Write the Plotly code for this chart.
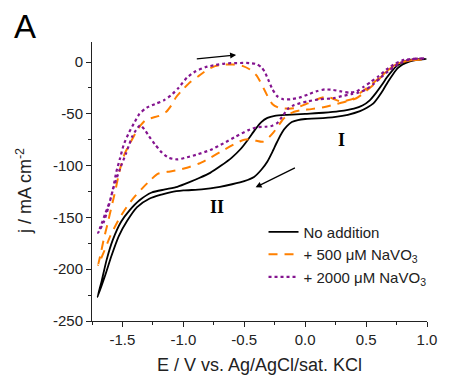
import plotly.graph_objects as go

# ---------------- data ----------------
# No addition: cathodic sweep (+1.0 -> -1.7) then anodic return
black_E = [0.99, 0.92, 0.86, 0.80, 0.76, 0.72, 0.68, 0.64, 0.60, 0.56, 0.51, 0.45, 0.35, 0.25, 0.10,
           0.00, -0.06, -0.11, -0.15, -0.19, -0.23, -0.27, -0.31, -0.36, -0.42, -0.50, -0.60, -0.70,
           -0.85, -1.00, -1.10, -1.18, -1.28, -1.38, -1.46, -1.53, -1.59, -1.645, -1.705,
           -1.67, -1.63, -1.58, -1.51, -1.44, -1.36, -1.26, -1.15, -1.05, -0.95, -0.87, -0.78,
           -0.69, -0.60, -0.53, -0.47, -0.41, -0.36, -0.31, -0.25, -0.15, 0.00, 0.15, 0.28, 0.40,
           0.47, 0.53, 0.58, 0.63, 0.67, 0.71, 0.75, 0.79, 0.84, 0.90, 0.99]
black_j = [3, 2, 0.5, -2.5, -6, -12, -19, -27, -34, -40, -44, -47.5, -51, -53, -54.5,
           -55, -56, -58, -62, -68, -77, -87, -96, -104, -111, -115, -118, -120.5,
           -123, -124, -125.5, -128, -132, -140, -153, -168, -187, -207, -227,
           -211, -191, -172, -154, -143, -133.5, -126, -123, -120.5, -116, -112, -107,
           -100, -92, -84, -75, -65, -58, -54, -52, -51, -50, -49, -47.5, -45,
           -42, -37, -30, -22, -15, -9, -4, -1, 1.5, 2.5, 3]

# + 500 uM NaVO3
orange_E = [0.97, 0.88, 0.80, 0.75, 0.70, 0.65, 0.60, 0.56, 0.52, 0.47, 0.42, 0.34, 0.26, 0.16, 0.05,
            -0.03, -0.09, -0.14, -0.18, -0.22, -0.26, -0.30, -0.35, -0.40, -0.45, -0.50, -0.57, -0.67,
            -0.78, -0.87, -0.97, -1.05, -1.13, -1.21, -1.27, -1.33, -1.40, -1.46, -1.53, -1.60, -1.655,
            -1.70,
            -1.68, -1.655, -1.62, -1.59, -1.56, -1.535, -1.51, -1.48, -1.44, -1.39, -1.35, -1.31,
            -1.26, -1.20, -1.14, -1.10, -1.06, -1.00, -0.94, -0.88, -0.81, -0.74, -0.67, -0.59, -0.51,
            -0.45, -0.40, -0.36, -0.33, -0.30, -0.27, -0.22, -0.14, -0.08, 0.02, 0.12, 0.18, 0.24,
            0.29, 0.35, 0.40, 0.45, 0.52, 0.58, 0.64, 0.70, 0.76, 0.82, 0.90, 0.97]
orange_j = [2.5, 2, 0, -2, -6, -11, -17.5, -22, -26, -31, -35, -38, -40.5, -43.5, -45.5,
            -46.5, -48, -51, -55, -61.5, -68, -73, -77, -76, -74.5, -75, -78.5, -85,
            -92.5, -98, -102, -104.5, -106, -108, -114, -121, -130, -139, -152, -168, -184,
            -196,
            -186, -172, -155, -140, -125, -111, -99, -88, -79, -68, -61, -56,
            -54, -52, -48, -42, -34, -26, -19, -14, -8, -4, -2.5, -2.5, -4,
            -7.5, -13, -21, -28, -35, -40.5, -44, -45, -44.5, -40, -35, -33.5, -36,
            -38, -37, -35, -30, -24, -18, -12, -6, -1.5, 0.5, 2, 2.5]

# + 2000 uM NaVO3
purple_E = [0.98, 0.90, 0.83, 0.78, 0.73, 0.68, 0.62, 0.56, 0.50, 0.44, 0.38, 0.30, 0.23, 0.12, 0.02,
            -0.09, -0.14, -0.19, -0.23, -0.27, -0.33, -0.40, -0.47, -0.57, -0.67, -0.78, -0.88, -0.97,
            -1.05, -1.12, -1.18, -1.23, -1.28, -1.32, -1.355, -1.39, -1.42, -1.47, -1.52, -1.575,
            -1.615, -1.655, -1.70,
            -1.68, -1.64, -1.60, -1.575, -1.55, -1.52, -1.49, -1.45, -1.40, -1.36, -1.30, -1.22,
            -1.16, -1.10, -1.04, -0.97, -0.90, -0.82, -0.74, -0.66, -0.56, -0.46, -0.40, -0.36,
            -0.33, -0.30, -0.27, -0.23, -0.18, -0.12, -0.05, 0.03, 0.10, 0.16, 0.23, 0.30, 0.36,
            0.42, 0.48, 0.54, 0.60, 0.67, 0.74, 0.81, 0.88, 0.98]
purple_j = [3.5, 3, 1.5, -1, -4.5, -9, -15, -21.5, -26.5, -29.5, -31, -33, -35, -36, -38,
            -41.5, -45, -53, -59, -61.5, -62.5, -63, -66, -72, -78.5, -85, -89, -92,
            -94, -92.5, -87, -80, -72, -65, -61, -66, -72, -88, -103, -122,
            -140, -155, -165,
            -159, -146, -133, -121, -106, -93, -80, -69, -58, -50, -44, -40,
            -37, -32, -25, -15, -9, -5, -3, -1.5, -1, -1, -2, -5,
            -10, -18, -26, -33, -36, -36, -34.5, -31, -28, -26.5, -27, -28.5, -29.5,
            -28.5, -24, -19, -14, -7, -1.5, 2, 3, 3.5]

x_ticks = [-1.5, -1.0, -0.5, 0.0, 0.5, 1.0]
x_tick_labels = ["-1.5", "-1.0", "-0.5", "0.0", "0.5", "1.0"]
y_ticks = [-250, -200, -150, -100, -50, 0]
y_tick_labels = ["-250", "-200", "-150", "-100", "-50", "0"]

series_names = ["No addition", "+ 500 μM NaVO<sub>3</sub>", "+ 2000 μM NaVO<sub>3</sub>"]

# ---------------- figure ----------------
FONT = "Liberation Sans, Arial, sans-serif"
SERIF = "Liberation Serif, DejaVu Serif, serif"
fig = go.Figure()
fig.add_trace(go.Scatter(x=black_E, y=black_j, mode="lines", name=series_names[0],
                         line=dict(color="black", width=1.8, shape="spline", smoothing=0.6)))
fig.add_trace(go.Scatter(x=orange_E, y=orange_j, mode="lines", name=series_names[1],
                         line=dict(color="#FF8000", width=2, dash="9px,7px", shape="spline", smoothing=0.6)))
fig.add_trace(go.Scatter(x=purple_E, y=purple_j, mode="lines", name=series_names[2],
                         line=dict(color="#84148F", width=2.2, dash="dot", shape="spline", smoothing=0.6)))

axis_common = dict(showline=True, linecolor="#222", linewidth=1, ticks="outside", ticklen=5,
                   tickcolor="#222", showgrid=False, zeroline=False, mirror=False,
                   tickfont=dict(family=FONT, size=15, color="#222"))

fig.update_xaxes(range=[-1.75, 1.0], tickvals=x_ticks, ticktext=x_tick_labels,
                 minor=dict(ticks="outside", dtick=0.25, tick0=0, ticklen=3, tickcolor="#222"),
                 **axis_common)
fig.update_yaxes(range=[-250, 19.3], tickvals=y_ticks, ticktext=y_tick_labels,
                 minor=dict(ticks="outside", dtick=25, tick0=0, ticklen=3, tickcolor="#222"),
                 **axis_common)

annotations = [
    dict(text="E / V vs. Ag/AgCl/sat. KCl", xref="paper", yref="paper", x=0.5, y=-0.159,
         showarrow=False, font=dict(family=FONT, size=18, color="#222"), xanchor="center", yanchor="middle"),
    dict(text="j / mA cm<sup>-2</sup>", xref="paper", yref="paper", x=-0.2035, y=0.465,
         showarrow=False, textangle=-90, font=dict(family=FONT, size=18, color="#222"),
         xanchor="center", yanchor="middle"),
    dict(text="A", xref="paper", yref="paper", x=-0.2, y=1.054, showarrow=False,
         font=dict(family=FONT, size=33, color="black"), xanchor="center", yanchor="middle"),
    dict(text="<b>I</b>", x=0.295, y=-75.4, xref="x", yref="y", showarrow=False,
         font=dict(family=SERIF, size=18, color="black")),
    dict(text="<b>II</b>", x=-0.726, y=-140, xref="x", yref="y", showarrow=False,
         font=dict(family=SERIF, size=18, color="black")),
    dict(text="", x=-0.567, y=6.8, ax=-0.902, ay=2.9, xref="x", yref="y", axref="x", ayref="y",
         showarrow=True, arrowhead=2, arrowsize=1, arrowwidth=1.2, arrowcolor="black"),
    dict(text="", x=-0.407, y=-121, ax=-0.072, ay=-101.5, xref="x", yref="y", axref="x", ayref="y",
         showarrow=True, arrowhead=2, arrowsize=1, arrowwidth=1.2, arrowcolor="black"),
]

fig.update_layout(
    width=449, height=375,
    margin=dict(l=92, r=13, t=42, b=54),
    plot_bgcolor="white", paper_bgcolor="white",
    showlegend=True,
    legend=dict(x=0.512, y=0.378, xanchor="left", yanchor="top", bgcolor="rgba(0,0,0,0)",
                font=dict(family=FONT, size=15, color="#222"), tracegroupgap=0),
    annotations=annotations,
)

# remove the default 8 px body margin so the 449x375 figure fills the window exactly
fig.write_html("out.html", config={"displayModeBar": False},
               post_script="document.body.style.margin='0';document.body.style.overflow='hidden';")
